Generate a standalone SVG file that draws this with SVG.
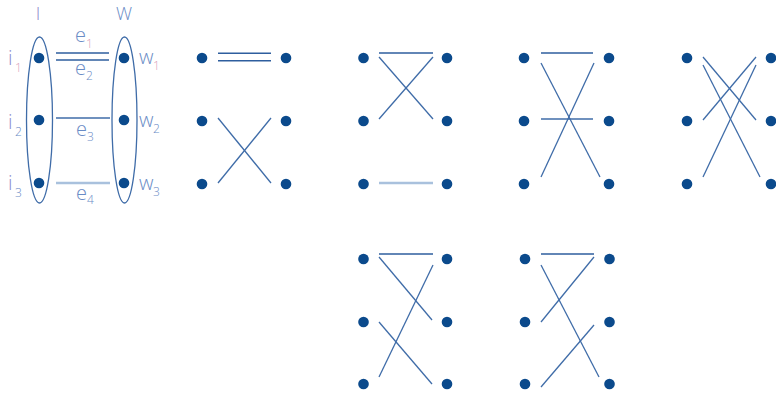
<svg xmlns="http://www.w3.org/2000/svg" width="776" height="401" viewBox="0 0 776 401">
<style>
.dot{fill:#0b4a8c}
.ln{stroke:#3f6ca8;stroke-width:1.3;fill:none}
.hl{stroke:#2e5e9e;stroke-width:1.5;fill:none}
.lt{stroke:#a9c1dd;stroke-width:2.6;fill:none}
.ell{stroke:#3f6ca8;stroke-width:1.3;fill:none}
.lab{font-family:"Open Sans","Liberation Sans",sans-serif;font-weight:300;font-size:20px;fill:#6a8cc6}
.labi{font-family:"Open Sans","Liberation Sans",sans-serif;font-weight:300;font-size:20px;fill:#8e8ccc}
.top{font-size:18px}
.sub{font-family:"Open Sans","Liberation Sans",sans-serif;font-weight:300;font-size:12px;fill:#6a8cc6}
.subp{font-family:"Open Sans","Liberation Sans",sans-serif;font-weight:300;font-size:12px;fill:#d9a3bb}
</style>
<rect width="776" height="401" fill="#ffffff"/>
<g id="connectors">
  <line class="hl" x1="56" y1="53" x2="109" y2="53"/>
  <line class="hl" x1="56" y1="60" x2="109" y2="60"/>
  <line class="ln" x1="56" y1="118" x2="110" y2="118"/>
  <line class="lt" x1="56" y1="183" x2="110" y2="183"/>
  <line class="hl" x1="218" y1="53.3" x2="271" y2="53.3"/>
  <line class="hl" x1="218" y1="60.7" x2="271" y2="60.7"/>
  <line class="ln" x1="218" y1="118" x2="271" y2="183"/>
  <line class="ln" x1="218" y1="183" x2="271" y2="118"/>
  <line class="hl" x1="379" y1="53" x2="433" y2="53"/>
  <line class="ln" x1="379" y1="57" x2="433" y2="119"/>
  <line class="ln" x1="379" y1="119" x2="433" y2="57"/>
  <line class="lt" x1="379" y1="183" x2="433" y2="183"/>
  <line class="hl" x1="541" y1="53" x2="593" y2="53"/>
  <line class="ln" x1="541" y1="119" x2="593" y2="119"/>
  <line class="ln" x1="541" y1="63" x2="600" y2="177"/>
  <line class="ln" x1="541" y1="177" x2="594" y2="63"/>
  <line class="ln" x1="703" y1="57" x2="756" y2="120"/>
  <line class="ln" x1="703" y1="65" x2="760" y2="177"/>
  <line class="ln" x1="703" y1="120" x2="756" y2="57"/>
  <line class="ln" x1="703" y1="177" x2="756" y2="65"/>
  <line class="hl" x1="379" y1="254" x2="433" y2="254"/>
  <line class="ln" x1="379" y1="257" x2="432" y2="320"/>
  <line class="ln" x1="433" y1="265" x2="379" y2="377"/>
  <line class="ln" x1="379" y1="322" x2="432" y2="384"/>
  <line class="hl" x1="541" y1="254" x2="594" y2="254"/>
  <line class="ln" x1="594" y1="257" x2="541" y2="322"/>
  <line class="ln" x1="541" y1="265" x2="599" y2="377"/>
  <line class="ln" x1="594" y1="325" x2="541" y2="387"/>
</g>
<g id="panel1">
  <ellipse class="ell" cx="39.5" cy="120" rx="13" ry="83"/>
  <ellipse class="ell" cx="124.5" cy="120" rx="12.5" ry="83"/>
  <text class="labi top" x="38" y="20" text-anchor="middle">I</text>
  <text class="lab top" x="124" y="20" text-anchor="middle">W</text>
  <g id="i1"><circle class="dot" cx="39" cy="58" r="5.3"/><text class="labi" x="8" y="65">i</text><text class="subp" x="15" y="72">1</text></g>
  <g id="i2"><circle class="dot" cx="39" cy="120" r="5.3"/><text class="labi" x="8" y="129">i</text><text class="sub" x="15" y="136">2</text></g>
  <g id="i3"><circle class="dot" cx="39" cy="183" r="5.3"/><text class="labi" x="8" y="190">i</text><text class="sub" x="15" y="197">3</text></g>
  <g id="w1"><circle class="dot" cx="124" cy="58" r="5.3"/><text class="lab" x="139" y="64">w</text><text class="subp" x="153" y="70">1</text></g>
  <g id="w2"><circle class="dot" cx="124" cy="120" r="5.3"/><text class="lab" x="139" y="127">w</text><text class="sub" x="153" y="133">2</text></g>
  <g id="w3"><circle class="dot" cx="124" cy="183" r="5.3"/><text class="lab" x="139" y="190">w</text><text class="sub" x="153" y="196">3</text></g>
  <text class="lab" x="75" y="42">e</text><text class="subp" x="86" y="48">1</text>
  <text class="lab" x="75" y="75">e</text><text class="sub" x="86" y="80">2</text>
  <text class="lab" x="76" y="136">e</text><text class="sub" x="87" y="141">3</text>
  <text class="lab" x="76" y="200">e</text><text class="sub" x="87" y="204">4</text>
</g>
<g id="panel2">
  <circle class="dot" cx="202" cy="58" r="5.3"/><circle class="dot" cx="202" cy="121" r="5.3"/><circle class="dot" cx="202" cy="184" r="5.3"/>
  <circle class="dot" cx="286" cy="58" r="5.3"/><circle class="dot" cx="286" cy="121" r="5.3"/><circle class="dot" cx="286" cy="184" r="5.3"/>
</g>
<g id="panel3">
  <circle class="dot" cx="363.5" cy="58" r="5.3"/><circle class="dot" cx="363.5" cy="121" r="5.3"/><circle class="dot" cx="363.5" cy="184" r="5.3"/>
  <circle class="dot" cx="447" cy="58" r="5.3"/><circle class="dot" cx="447" cy="121" r="5.3"/><circle class="dot" cx="447" cy="184" r="5.3"/>
</g>
<g id="panel4">
  <circle class="dot" cx="524" cy="58" r="5.3"/><circle class="dot" cx="524" cy="121" r="5.3"/><circle class="dot" cx="524" cy="184" r="5.3"/>
  <circle class="dot" cx="609" cy="58" r="5.3"/><circle class="dot" cx="609" cy="121" r="5.3"/><circle class="dot" cx="609" cy="184" r="5.3"/>
</g>
<g id="panel5">
  <circle class="dot" cx="687" cy="58" r="5.3"/><circle class="dot" cx="687" cy="121" r="5.3"/><circle class="dot" cx="687" cy="184" r="5.3"/>
  <circle class="dot" cx="771" cy="58" r="5.3"/><circle class="dot" cx="771" cy="121" r="5.3"/><circle class="dot" cx="771" cy="184" r="5.3"/>
</g>
<g id="panel6">
  <circle class="dot" cx="363.5" cy="259" r="5.3"/><circle class="dot" cx="363.5" cy="322" r="5.3"/><circle class="dot" cx="363.5" cy="384" r="5.3"/>
  <circle class="dot" cx="447" cy="259" r="5.3"/><circle class="dot" cx="447" cy="322" r="5.3"/><circle class="dot" cx="447" cy="384" r="5.3"/>
</g>
<g id="panel7">
  <circle class="dot" cx="525" cy="259" r="5.3"/><circle class="dot" cx="525" cy="322" r="5.3"/><circle class="dot" cx="525" cy="384" r="5.3"/>
  <circle class="dot" cx="609.5" cy="259" r="5.3"/><circle class="dot" cx="609.5" cy="322" r="5.3"/><circle class="dot" cx="609.5" cy="384" r="5.3"/>
</g>
</svg>
